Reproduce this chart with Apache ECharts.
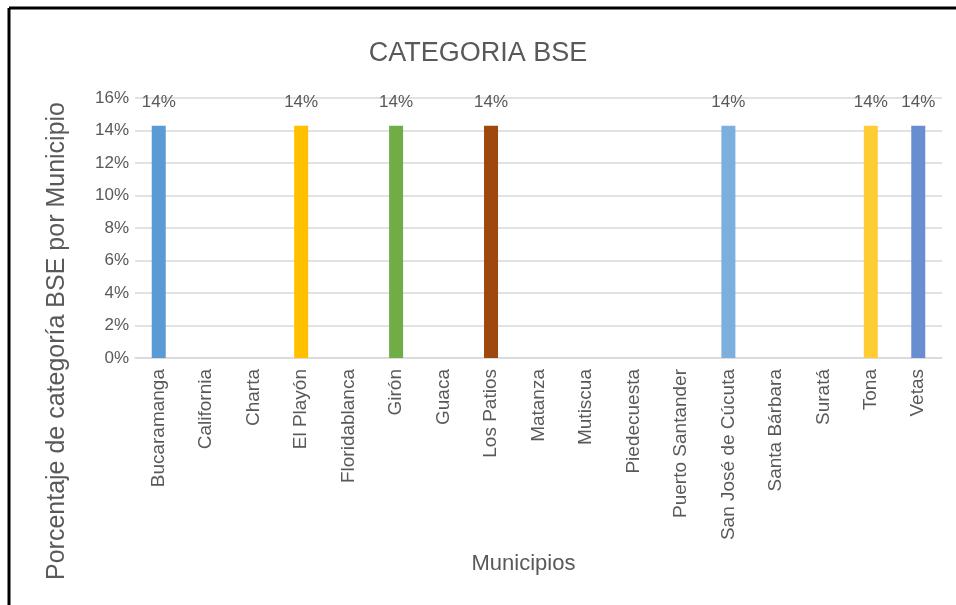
<!DOCTYPE html>
<html>
<head>
<meta charset="utf-8">
<script src="https://cdn.jsdelivr.net/npm/echarts@6/dist/echarts.min.js"></script>
<style>
  html, body { margin: 0; padding: 0; background: #fff; }
  #main { width: 956px; height: 605px; }
</style>
</head>
<body>
<div id="main"></div>
<script>
/* datos del grafico */
var municipios = ['Bucaramanga', 'California', 'Charta', 'El Playón', 'Floridablanca', 'Girón', 'Guaca',
    'Los Patios', 'Matanza', 'Mutiscua', 'Piedecuesta', 'Puerto Santander', 'San José de Cúcuta',
    'Santa Bárbara', 'Suratá', 'Tona', 'Vetas'];
var porcentajes = [1 / 7, 0, 0, 1 / 7, 0, 1 / 7, 0, 1 / 7, 0, 0, 0, 0, 1 / 7, 0, 0, 1 / 7, 1 / 7];
var colores = ['#5B9BD5', '#ED7D31', '#A5A5A5', '#FFC000', '#4472C4', '#70AD47', '#255E91', '#9E480E',
    '#636363', '#997300', '#264478', '#43682B', '#7CAFDD', '#F1975A', '#B7B7B7', '#FFCD33', '#698ED0'];
var ticksY = [0, 0.02, 0.04, 0.06, 0.08, 0.1, 0.12, 0.14, 0.16];

var fuente = 'Liberation Sans';
var gris = '#595959';

var chart = echarts.init(document.getElementById('main'));
chart.setOption({
    animation: false,
    backgroundColor: '#fff',
    textStyle: { fontFamily: fuente },
    title: {
        text: 'CATEGORIA BSE',
        left: 'center',
        top: 35,
        textStyle: { fontFamily: fuente, fontSize: 27, fontWeight: 'normal', color: gris }
    },
    grid: { left: 135, right: 14, top: 98, bottom: 247 },
    xAxis: {
        type: 'category',
        data: municipios,
        name: 'Municipios',
        nameLocation: 'middle',
        nameGap: 195,
        nameTextStyle: { fontFamily: fuente, fontSize: 22, color: gris, padding: [0, 30, 0, 0] },
        axisLine: { lineStyle: { color: '#D9D9D9', width: 1.5 } },
        axisTick: { show: false },
        axisLabel: { rotate: 90, interval: 0, margin: 11, fontSize: 19, color: gris, fontFamily: fuente }
    },
    yAxis: {
        type: 'value',
        min: ticksY[0],
        max: ticksY[ticksY.length - 1],
        interval: 0.02,
        axisLine: { show: false },
        axisTick: { show: false },
        splitLine: { lineStyle: { color: '#D9D9D9', width: 1.5 } },
        axisLabel: {
            fontSize: 17, color: gris, fontFamily: fuente, margin: 6,
            formatter: function (v) { return Math.round(v * 100) + '%'; }
        }
    },
    series: [{
        type: 'bar',
        barWidth: 14,
        data: porcentajes.map(function (v, i) {
            return { value: v, itemStyle: { color: colores[i] } };
        }),
        label: {
            show: true,
            position: 'top',
            distance: 15,
            fontSize: 17,
            color: gris,
            fontFamily: fuente,
            formatter: function (p) { return p.value > 0 ? Math.round(p.value * 100) + '%' : ''; }
        }
    }],
    graphic: [
        /* titulo del eje y, centrado como en la imagen */
        {
            type: 'text',
            x: 57, y: 341,
            rotation: Math.PI / 2,
            style: {
                text: 'Porcentaje de categoría BSE por Municipio',
                font: '25px "Liberation Sans"',
                fill: gris,
                textAlign: 'center',
                textVerticalAlign: 'middle'
            }
        },
        /* marco */
        { type: 'line', shape: { x1: 9, y1: 8, x2: 956, y2: 8 }, style: { stroke: '#000', lineWidth: 3 } },
        { type: 'line', shape: { x1: 9, y1: 8, x2: 9, y2: 605 }, style: { stroke: '#000', lineWidth: 3 } }
    ]
});
</script>
</body>
</html>
